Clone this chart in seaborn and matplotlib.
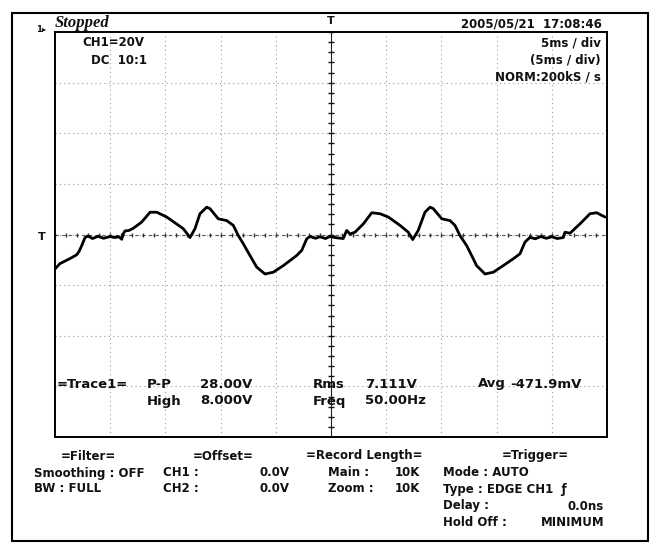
import matplotlib
matplotlib.use("Agg")
import matplotlib.pyplot as plt
from matplotlib.patches import Rectangle
import numpy as np
import pandas as pd
import seaborn as sns

# trace: time in ms (5 ms/div), voltage in V (20 V/div)
time_ms = [0, 0.45, 1.36, 1.97, 2.2, 2.42, 2.72, 2.99, 3.4, 3.9, 4.4, 4.98, 5.4, 5.8,
           6.04, 6.2, 6.34, 6.7, 7.07, 7.85, 8.61, 9.21, 10.12, 11.62, 12.23, 12.68,
           13.13, 13.74, 14.04, 14.79, 15.55, 16.15, 16.6, 17.06, 17.66, 18.27, 19.02,
           19.77, 20.68, 21.89, 22.35, 22.8, 23.1, 23.6, 24.0, 24.5, 24.9, 25.5, 26.11,
           26.42, 26.72, 27.17, 27.93, 28.69, 29.44, 30.19, 31.25, 32.0, 32.4, 32.9,
           33.51, 33.97, 34.27, 35.03, 35.78, 36.23, 36.68, 37.29, 37.59, 38.19, 38.95,
           39.7, 40.6, 41.51, 42.12, 42.57, 43.03, 43.5, 44.0, 44.5, 45.0, 45.5, 46.04,
           46.2, 46.65, 47.55, 48.46, 49.06, 49.82]
volts = [-13.6, -11.5, -9.5, -8.0, -6.5, -4.4, -1.2, -0.6, -1.6, -0.7, -1.5, -0.8, -1.2,
         -0.9, -1.9, 0.4, 1.4, 1.6, 2.4, 4.9, 8.8, 8.8, 6.9, 2.3, -1.2, 2.3,
         8.2, 10.8, 10.2, 6.2, 5.5, 3.6, -0.4, -3.7, -8.3, -12.9, -15.6,
         -14.9, -12.3, -8.3, -6.3, -1.7, -0.8, -1.5, -0.9, -1.6, -0.8, -1.3, -1.6,
         1.6, 0.2, 0.9, 4.2, 8.6, 8.2, 6.9, 3.6, 0.9, -2.0, 1.6,
         8.8, 10.8, 10.2, 6.2, 5.5, 3.6, -0.4, -4.4, -7.0, -12.3, -15.6,
         -14.9, -12.3, -9.6, -7.6, -3.0, -1.1, -1.7, -0.8, -1.5, -0.9, -1.6, -1.2,
         0.9, 0.5, 4.2, 8.2, 8.6, 6.9]

# screen scale
t_div, v_div = 5.0, 20.0
n_hdiv, n_vdiv = 10, 8

# readouts
header_left = ["CH1=20V", "DC  10:1"]
header_right = ["5ms / div", "(5ms / div)", "NORM:200kS / s"]
timestamp = "2005/05/21  17:08:46"
meas_row1 = [("=Trace1=", 57), ("P-P", 147), ("28.00V", 200), ("Rms", 313),
             ("7.111V", 365), ("Avg", 478), ("-471.9mV", 510)]
meas_row2 = [("High", 147), ("8.000V", 200), ("Freq", 313), ("50.00Hz", 365)]

W, H = 657, 547
sns.set_theme(style="white")
plt.rcParams['font.family'] = ['DejaVu Sans']

fig = plt.figure(figsize=(W / 100, H / 100), dpi=100)
fig.patch.set_facecolor("white")
x0, x1, y0, y1 = 55, 607, 32, 437
ax = fig.add_axes([x0 / W, 1 - y1 / H, (x1 - x0) / W, (y1 - y0) / H])

df = pd.DataFrame({"t": time_ms, "v": volts})
sns.lineplot(data=df, x="t", y="v", ax=ax, color="black", lw=2.0, sort=False)

t_max = t_div * n_hdiv
v_max = v_div * n_vdiv / 2
ax.set_xlim(0, t_max)
ax.set_ylim(-v_max, v_max)

# dotted graticule
for k in range(1, n_hdiv):
    ax.axvline(k * t_div, color="#999999", lw=0.8, ls=(0, (1, 3)), zorder=0)
for k in range(1, n_vdiv):
    ax.axhline(-v_max + k * v_div, color="#999999", lw=0.8, ls=(0, (1, 3)), zorder=0)

# centre axes with minor ticks
tc = t_max / 2
ax.axhline(0, color="#555555", lw=0.8, ls=(0, (3, 3)), zorder=0)
ax.axvline(tc, color="#222222", lw=0.8, zorder=0)
ax.plot(np.arange(0, t_max + 0.01, t_div / 5), np.zeros(n_hdiv * 5 + 1), ls="none",
        marker="|", ms=3.5, mew=1.0, color="#333333", zorder=1)
ax.plot(np.full(n_vdiv * 5 + 1, tc), np.arange(-v_max, v_max + 0.01, v_div / 5), ls="none",
        marker="_", ms=4, mew=1.0, color="#111111", zorder=1)

ax.set_xticks([])
ax.set_yticks([])
ax.set_xlabel("")
ax.set_ylabel("")
for s in ax.spines.values():
    s.set_visible(True)
    s.set_color("black")
    s.set_linewidth(1.4)

# outer frame
fig.patches.append(Rectangle((12 / W, 1 - 541 / H), (648 - 12) / W, (541 - 13) / H,
                             transform=fig.transFigure, fill=False, ec="black", lw=1.5))


def put(x, y, s, ha="left", **kw):
    fig.text(x / W, 1 - y / H, s, ha=ha, va="center", **kw)


sans = dict(fontsize=8.5, fontweight="bold", color="#111111")
meas = dict(fontsize=9.5, fontweight="bold", color="#111111")

put(55, 23, "Stopped", fontsize=12, fontweight="bold", style="italic",
    family=["Liberation Serif", "DejaVu Serif"], color="#111111")
put(36, 29, "1▸", fontsize=6, fontweight="bold", color="#111111")
put(331, 21, "T", ha="center", fontsize=8, fontweight="bold", color="#111111")
put(42, 237, "T", ha="center", fontsize=8, fontweight="bold", color="#111111")
put(602, 24, timestamp, ha="right", **sans)
put(82, 43, header_left[0], **sans)
put(91, 60, header_left[1], **sans)
for i, s in enumerate(header_right):
    put(601, 43 + 17 * i, s, ha="right", **sans)

for s, x in meas_row1:
    put(x, 384, s, **meas)
for s, x in meas_row2:
    put(x, 401, s, **meas)

# settings panel
put(88, 456, "=Filter=", ha="center", **sans)
put(34, 473, "Smoothing : OFF", **sans)
put(34, 489, "BW : FULL", **sans)
put(223, 456, "=Offset=", ha="center", **sans)
put(163, 473, "CH1 :", **sans)
put(290, 473, "0.0V", ha="right", **sans)
put(163, 489, "CH2 :", **sans)
put(290, 489, "0.0V", ha="right", **sans)
put(364, 456, "=Record Length=", ha="center", **sans)
put(328, 473, "Main :", **sans)
put(420, 473, "10K", ha="right", **sans)
put(328, 489, "Zoom :", **sans)
put(420, 489, "10K", ha="right", **sans)
put(535, 456, "=Trigger=", ha="center", **sans)
put(443, 473, "Mode : AUTO", **sans)
put(443, 489, "Type : EDGE CH1  ƒ", **sans)
put(443, 506, "Delay :", **sans)
put(604, 506, "0.0ns", ha="right", **sans)
put(443, 522, "Hold Off :", **sans)
put(604, 522, "MINIMUM", ha="right", **sans)

fig.savefig("out.png", dpi=100, facecolor="white")
